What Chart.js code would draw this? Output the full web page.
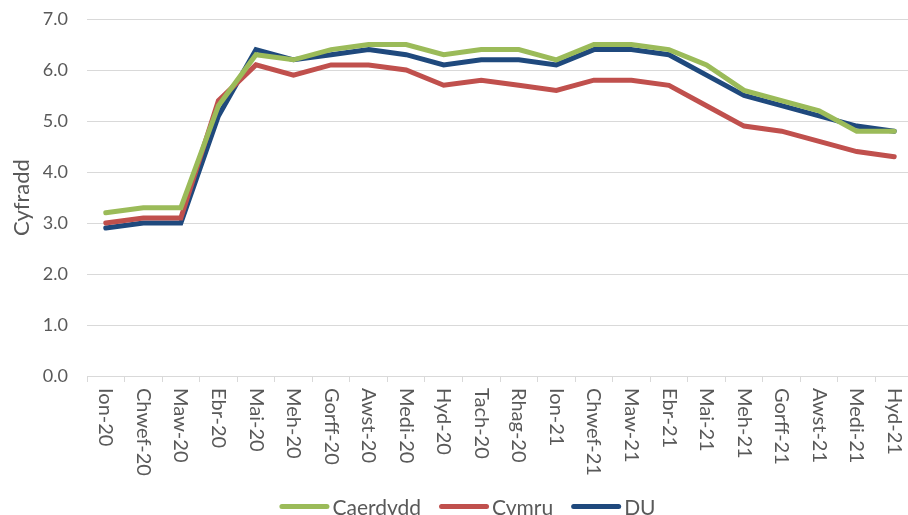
<!DOCTYPE html>
<html><head><meta charset="utf-8">
<script src="https://cdn.jsdelivr.net/npm/chart.js@4.4.1/dist/chart.umd.min.js"></script>
<style>
html,body{margin:0;padding:0;background:#fff;overflow:hidden;width:908px;height:515px;}
#wrap{position:relative;width:913px;height:515px;}
</style></head>
<body><div id="wrap"><canvas id="c"></canvas></div>
<script>
const categories = ["Ion-20","Chwef-20","Maw-20","Ebr-20","Mai-20","Meh-20","Gorff-20","Awst-20","Medi-20","Hyd-20","Tach-20","Rhag-20","Ion-21","Chwef-21","Maw-21","Ebr-21","Mai-21","Meh-21","Gorff-21","Awst-21","Medi-21","Hyd-21"];
const caerdydd = [3.2,3.3,3.3,5.3,6.3,6.2,6.4,6.5,6.5,6.3,6.4,6.4,6.2,6.5,6.5,6.4,6.1,5.6,5.4,5.2,4.8,4.8];
const cymru    = [3.0,3.1,3.1,5.4,6.1,5.9,6.1,6.1,6.0,5.7,5.8,5.7,5.6,5.8,5.8,5.7,5.3,4.9,4.8,4.6,4.4,4.3];
const du       = [2.9,3.0,3.0,5.1,6.4,6.2,6.3,6.4,6.3,6.1,6.2,6.2,6.1,6.4,6.4,6.3,5.9,5.5,5.3,5.1,4.9,4.8];
const yTicks = [0,1,2,3,4,5,6,7];

const FONT = "Lato, 'Open Sans', sans-serif";
const TXT = "#595959";

const rotLabels = {
  id:'rotLabels',
  afterDraw(chart){
    const sc = chart.scales.x, ctx = chart.ctx;
    ctx.save();
    ctx.font = "20px " + FONT;
    ctx.fillStyle = TXT;
    ctx.textAlign = 'left';
    ctx.textBaseline = 'middle';
    sc.ticks.forEach((t,i)=>{
      const x = sc.getPixelForTick(i);
      ctx.save();
      ctx.translate(x, sc.top + 12);
      ctx.rotate(Math.PI/2);
      ctx.fillText(categories[i], 0, 0);
      ctx.restore();
    });
    // legend
    ctx.font = "21px " + FONT;
    ctx.textBaseline = 'alphabetic';
    const items = chart.data.datasets.map(d=>({label:d.label, color:d.borderColor, w:ctx.measureText(d.label).width}));
    const boxW = 50, gapT = 3, gapI = 18;
    let total = 0;
    items.forEach((it,i)=>{ total += boxW + gapT + it.w + (i ? gapI : 0); });
    let x = 467.5 - total/2;
    const yLine = 506.5, yText = 515;
    items.forEach(it=>{
      ctx.strokeStyle = it.color; ctx.lineWidth = 5; ctx.lineCap = 'round';
      ctx.beginPath(); ctx.moveTo(x+2.5, yLine); ctx.lineTo(x+boxW-2.5, yLine); ctx.stroke();
      ctx.fillStyle = TXT;
      ctx.fillText(it.label, x + boxW + gapT, yText);
      x += boxW + gapT + it.w + gapI;
    });
    ctx.restore();
  }
};

function ds(label, data, color){
  return {label, data, borderColor:color, backgroundColor:color, borderWidth:5,
    pointRadius:0, pointHoverRadius:0, tension:0, fill:false, borderCapStyle:'round', borderJoinStyle:'miter'};
}

new Chart(document.getElementById('c'), {
  type:'line',
  data:{labels:categories, datasets:[
    ds('Caerdydd', caerdydd, '#9BBB59'),
    ds('Cymru', cymru, '#C0504D'),
    ds('DU', du, '#1F497D')
  ]},
  options:{
    responsive:true, maintainAspectRatio:false, animation:false,
    layout:{padding:{top:0,left:0,right:0,bottom:0}},
    plugins:{
      legend:{display:false},
      tooltip:{enabled:false}
    },
    scales:{
      x:{offset:true,
        grid:{offset:true, drawOnChartArea:false, drawTicks:true, tickLength:6, color:'#d9d9d9'},
        border:{display:true,color:'#d9d9d9'},
        ticks:{autoSkip:false, minRotation:90, maxRotation:90, color:'rgba(0,0,0,0)', font:{family:FONT,size:18}, padding:8},
        afterFit(s){ s.height = 139; s.paddingLeft = 0; s.paddingRight = 0; }
      },
      y:{min:0,max:7,
        afterBuildTicks(s){ s.ticks = yTicks.map(v=>({value:v})); },
        grid:{color:'#d9d9d9', drawTicks:false},
        border:{display:false},
        ticks:{color:TXT, padding:19, font:{family:FONT,size:18}, callback:v=>v.toFixed(1)},
        title:{display:true, text:'Cyfradd', color:TXT, font:{family:FONT,size:22}, padding:{top:9,bottom:0}},
        afterFit(s){ s.width = 87; s.paddingTop = 19; s.paddingBottom = 0; }
      }
    }
  },
  plugins:[rotLabels]
});
</script></body></html>
